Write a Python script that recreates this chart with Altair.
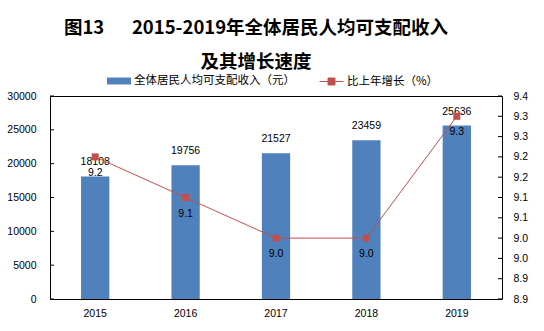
import altair as alt
import pandas as pd

years = ["2015", "2016", "2017", "2018", "2019"]
income = [18108, 19756, 21527, 23459, 25636]
growth = [9.2, 9.1, 9.0, 9.0, 9.3]
left_ticks = [0, 5000, 10000, 15000, 20000, 25000, 30000]
right_ticks = [8.85, 8.9, 8.95, 9.0, 9.05, 9.1, 9.15, 9.2, 9.25, 9.3, 9.35]

bar_name = "全体居民人均可支配收入（元）"
line_name = "比上年增长（%）"
title_lines = ["图13\u2003\u20022015-2019年全体居民人均可支配收入", "及其增长速度"]

BAR_C = "#4F81BD"
LINE_C = "#C0504D"
NUM_FONT = "Liberation Sans"
CJK_FONT = "Noto Sans CJK SC"

df = pd.DataFrame({"year": years, "income": income, "growth": growth,
                   "s1": bar_name, "s2": line_name})
lt = pd.DataFrame({"income": left_ticks})
rt = pd.DataFrame({"growth": right_ticks})

W, H = 452, 203

xenc = alt.X("year:N",
             scale=alt.Scale(paddingInner=0.687, paddingOuter=0.3435),
             axis=alt.Axis(title=None, labelAngle=0, domain=False, ticks=False,
                           labelPadding=9, labelFontSize=10.5, labelFont=NUM_FONT,
                           labelColor="black"))

yLenc = alt.Y("income:Q", scale=alt.Scale(domain=[0, 30000], nice=False, zero=True),
              axis=alt.Axis(title=None, values=left_ticks, format="d", domain=False,
                            ticks=False, grid=False, labelPadding=14,
                            labelFontSize=10.5, labelFont=NUM_FONT, labelColor="black"))

yRenc = alt.Y("growth:Q", scale=alt.Scale(domain=[8.85, 9.35], nice=False, zero=False),
              axis=alt.Axis(title=None, orient="right", values=right_ticks,
                            labelExpr="format(datum.value + 0.0001, '.1f')",
                            domain=False, ticks=False, grid=False, labelPadding=11,
                            labelFontSize=10.5, labelFont=NUM_FONT, labelColor="black"))

legL = alt.Legend(title=None, orient="none", legendX=57, legendY=-27,
                  symbolType="M-1,-0.29L1,-0.29L1,0.29L-1,0.29Z",
                  symbolSize=576, symbolStrokeWidth=0,
                  labelFont=CJK_FONT, labelFontSize=11.5, labelLimit=400,
                  labelColor="black", labelOffset=3)

legR = alt.Legend(title=None, orient="none", legendX=269, legendY=-27,
                  symbolType="M-1,0L1,0M-0.29,-0.29L0.29,-0.29L0.29,0.29L-0.29,0.29Z",
                  symbolSize=576, symbolFillColor=LINE_C, symbolStrokeColor=LINE_C,
                  symbolStrokeWidth=1, labelLimit=400,
                  labelFont=CJK_FONT, labelFontSize=11.5, labelColor="black", labelOffset=3)

bars = alt.Chart(df).mark_bar().encode(
    x=xenc, y=yLenc,
    color=alt.Color("s1:N", scale=alt.Scale(range=[BAR_C]), legend=legL),
)

btext = alt.Chart(df).mark_text(dy=-14, baseline="middle", font=NUM_FONT,
                                fontSize=10.5, color="black").encode(
    x=xenc, y=yLenc,
    text=alt.Text("income:Q", format="d"),
)

lticks = alt.Chart(lt).mark_rule(color="black", strokeWidth=1).encode(
    y=yLenc, x=alt.value(0), x2=alt.value(4),
)

line = alt.Chart(df).mark_line(strokeWidth=1).encode(
    x=xenc, y=yRenc,
    color=alt.Color("s2:N", scale=alt.Scale(range=[LINE_C]), legend=legR),
)
pts = alt.Chart(df).mark_point(shape="square", filled=True, size=49, opacity=1).encode(
    x=xenc, y=yRenc,
    color=alt.Color("s2:N", scale=alt.Scale(range=[LINE_C]), legend=legR),
)
ltext = alt.Chart(df).mark_text(dy=16, baseline="middle", font=NUM_FONT,
                                fontSize=10.5, color="black").encode(
    x=xenc, y=yRenc,
    text=alt.Text("growth:Q", format=".1f"),
)
rticks = alt.Chart(rt).mark_rule(color="black", strokeWidth=1).encode(
    y=yRenc, x=alt.value(W - 4), x2=alt.value(W),
)

chart = alt.layer(
    alt.layer(bars, btext, lticks),
    alt.layer(line, pts, ltext, rticks),
).resolve_scale(y="independent", color="independent").properties(
    width=W, height=H,
    autosize=alt.AutoSizeParams(type="none"),
    padding={"left": 50, "top": 96, "right": 42, "bottom": 32},
    title=alt.TitleParams(text=title_lines, font=CJK_FONT, fontSize=18.5,
                          fontWeight="bold", lineHeight=34, anchor="middle",
                          dx=-20, dy=2, offset=0, color="black"),
).configure_view(stroke="black", strokeWidth=1)

chart.save("out.html", embed_options={"renderer": "svg", "actions": False})
